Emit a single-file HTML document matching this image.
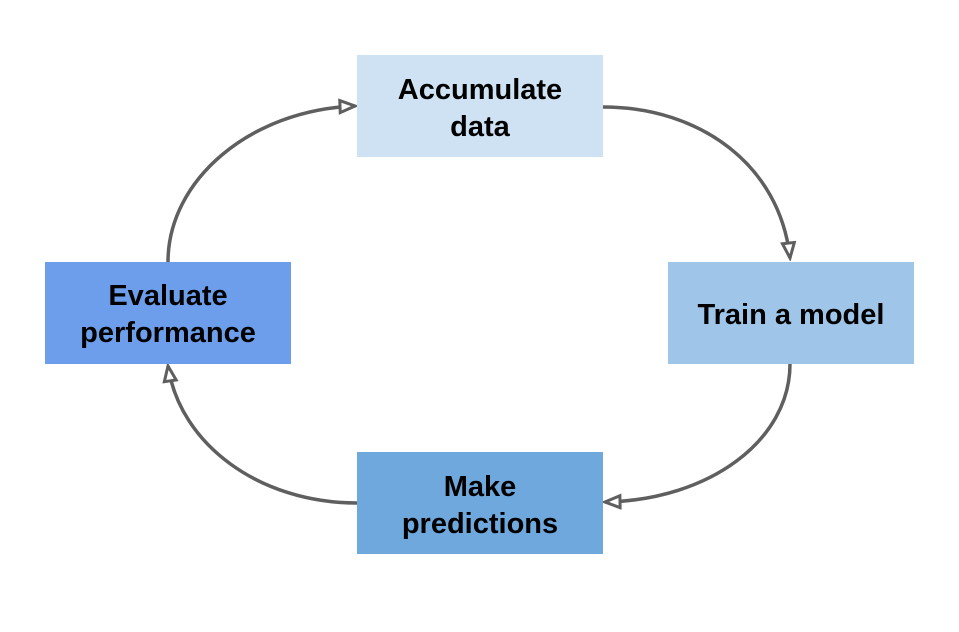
<!DOCTYPE html>
<html><head><style>
body{margin:0;background:#fff;width:959px;height:627px;overflow:hidden}
svg text{font-family:"Liberation Sans",sans-serif;font-weight:bold;font-size:29px;fill:#000}
</style></head><body>
<svg width="959" height="627" viewBox="0 0 959 627" xmlns="http://www.w3.org/2000/svg">
<defs>
<marker id="a" markerWidth="20" markerHeight="20" refX="17" refY="8" orient="auto" markerUnits="userSpaceOnUse">
<path d="M2,2 L17,8 L2,14 Z" fill="#fff" stroke="#5f5f5f" stroke-width="3" stroke-linejoin="miter"/>
</marker>
</defs>
<g fill="none" stroke="#5f5f5f" stroke-width="3.5">
<path d="M603,107 C700,107 780,165 790,258" marker-end="url(#a)"/>
<path d="M790,364 C790,440 710,500 605,502" marker-end="url(#a)"/>
<path d="M357,503 C260,503 180,445 168,366" marker-end="url(#a)"/>
<path d="M168,262 C168,180 250,110 355,106" marker-end="url(#a)"/>
</g>
<rect x="357" y="55" width="246" height="102" fill="#cfe2f3"/>
<rect x="668" y="262" width="246" height="102" fill="#9fc5e8"/>
<rect x="357" y="452" width="246" height="102" fill="#6fa8dc"/>
<rect x="45" y="262" width="246" height="102" fill="#6d9eeb"/>
<g text-anchor="middle">
<text x="480" y="99">Accumulate</text>
<text x="480" y="136">data</text>
<text x="791" y="324">Train a model</text>
<text x="480" y="496">Make</text>
<text x="480" y="533">predictions</text>
<text x="168" y="305">Evaluate</text>
<text x="168" y="342">performance</text>
</g>
</svg>
</body></html>
